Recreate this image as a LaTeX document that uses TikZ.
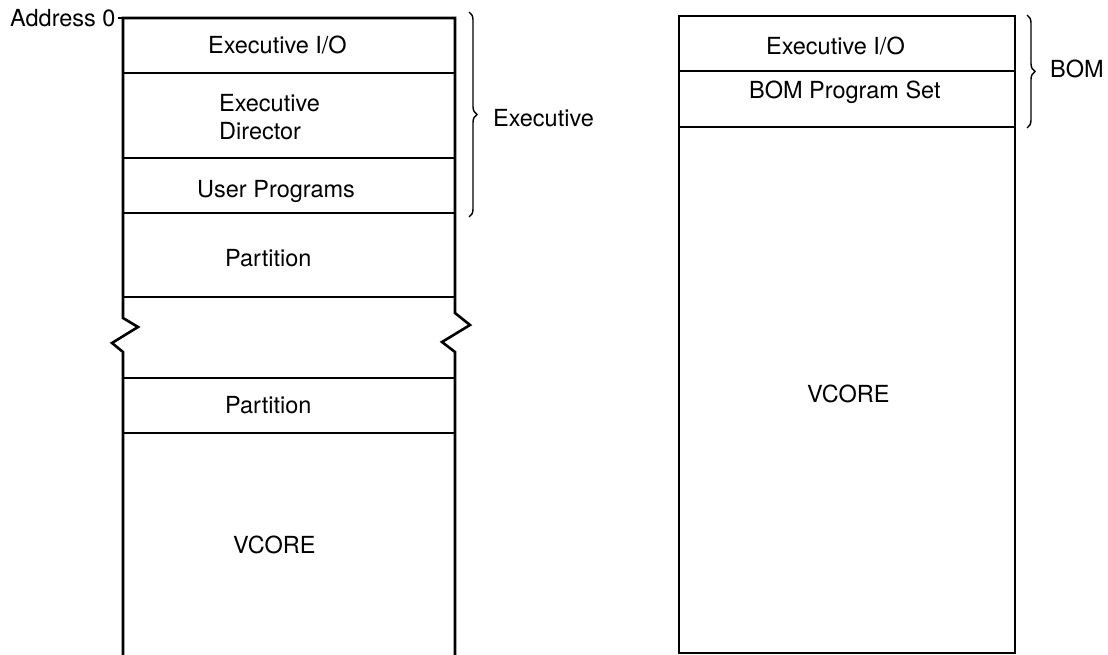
\documentclass[tikz,border=0pt]{standalone}
\usepackage{fontspec}
\setmainfont{TeX Gyre Heros}
\usetikzlibrary{decorations.pathreplacing}
\begin{document}
\begin{tikzpicture}[x=1pt,y=-1pt,
  wall/.style={line width=2.6pt,line join=miter},
  divider/.style={line width=2.2pt},
  curly/.style={line width=1.4pt,decorate,decoration={brace,amplitude=8pt}},
  lbl/.style={inner sep=0pt,anchor=base west,font=\fontsize{23.5}{28}\selectfont}]
\useasboundingbox (0,0) rectangle (1108,655);

% ---- memory map of the running system (left column, open at the bottom)
\coordinate (lbot) at (123,655);
\coordinate (rbot) at (455,655);
\draw[wall] (lbot) -- (123,352) -- (112,343) -- (138,327) -- (123,318) -- (123,18)
  -- (455,18) -- (455,313) -- (470,325) -- (442,342) -- (455,352) -- (rbot);
\draw[wall] (118,18) -- (123,18);
\foreach \yy in {73,158,213,297,378,433}
  \draw[divider] (123,\yy) -- (455,\yy);

\node[lbl] (addr) at (10,27) {Address 0};
\node[lbl] (eio) at (208,54) {Executive I/O};
\node[lbl] (edirA) at (219,112) {Executive};
\node[lbl] (edirB) at (219,140) {Director};
\node[lbl] (user) at (197,197) {User Programs};
\node[lbl] (partA) at (225,266) {Partition};
\node[lbl] (partB) at (225,413) {Partition};
\node[lbl] (vcoreL) at (233,553) {VCORE};

\coordinate (execTop) at (469,12);
\coordinate (execBot) at (469,217);
\draw[curly] (execTop) -- (execBot);
\node[lbl] (exec) at (493,127) {Executive};

% ---- memory map under BOM (right column, closed)
\draw[wall] (679,16) rectangle (1015,653);
\foreach \yy in {71,127}
  \draw[divider] (679,\yy) -- (1015,\yy);

\node[lbl] (eioR) at (766,55) {Executive I/O};
\node[lbl] (bomset) at (749,99) {BOM Program Set};
\node[lbl] (vcoreR) at (807,402) {VCORE};

\coordinate (bomTop) at (1027,15);
\coordinate (bomBot) at (1027,128);
\draw[curly] (bomTop) -- (bomBot);
\node[lbl] (bom) at (1050,78) {BOM};
\end{tikzpicture}
\end{document}
